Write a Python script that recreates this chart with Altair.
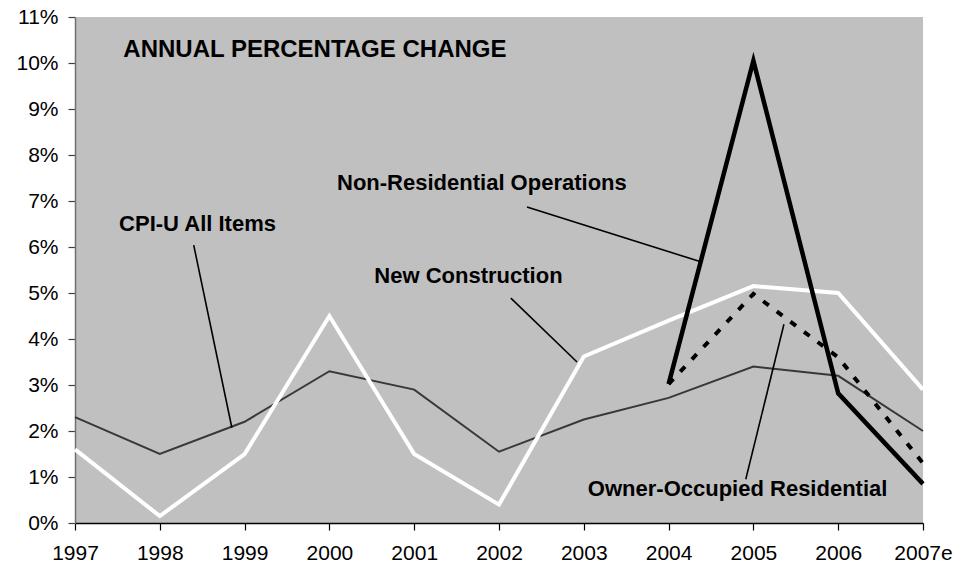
import json
import altair as alt
import pandas as pd

years = ["1997", "1998", "1999", "2000", "2001", "2002", "2003", "2004", "2005", "2006", "2007e"]
cpi = [2.3, 1.5, 2.2, 3.3, 2.9, 1.55, 2.25, 2.72, 3.4, 3.2, 2.0]
new_construction = [1.6, 0.15, 1.5, 4.5, 1.5, 0.4, 3.62, 4.4, 5.15, 5.0, 2.9]
non_res = [None, None, None, None, None, None, None, 3.02, 10.05, 2.82, 0.85]
owner_occ = [None, None, None, None, None, None, None, 3.02, 4.98, 3.6, 1.3]

# annotation texts and leader lines (in data coordinates: x = year index, y = %)
label_text = ["ANNUAL PERCENTAGE CHANGE", "Non-Residential Operations", "New Construction",
              "CPI-U All Items", "Owner-Occupied Residential"]
label_x = [0.57, 3.09, 3.53, 0.52, 9.58]
label_y = [10.28, 7.39, 5.37, 6.50, 0.74]
label_align = ["left", "left", "left", "left", "right"]
label_size = [24, 22, 22, 22, 22]

leader_x1 = [1.40, 5.33, 5.14, 8.36]
leader_y1 = [6.04, 6.87, 4.89, 4.32]
leader_x2 = [1.85, 7.36, 5.92, 7.91]
leader_y2 = [2.07, 5.69, 3.50, 0.95]

FONT = "Liberation Sans"

def series(vals, name):
    return pd.DataFrame({"x": list(range(len(years))), "y": vals, "s": name}).dropna()

x_scale = alt.Scale(domain=[0, len(years) - 1], nice=False, zero=False)
y_scale = alt.Scale(domain=[0, 11], nice=False, zero=True)

label_expr = json.dumps(years) + "[datum.value]"

x_axis = alt.Axis(values=list(range(len(years))), labelExpr=label_expr, title=None,
                  grid=False, domainColor="#000000", domainWidth=1.5, tickColor="#000000",
                  tickSize=7, tickWidth=1.2, labelFont=FONT, labelFontSize=21,
                  labelColor="#000000", labelPadding=12, labelFlush=False, labelOverlap=False)
y_axis = alt.Axis(values=list(range(12)), labelExpr="datum.value + '%'", title=None,
                  grid=False, domainColor="#707070", domainWidth=1.5, tickColor="#404040",
                  tickSize=7, tickWidth=1.2, labelFont=FONT, labelFontSize=21,
                  labelColor="#000000", labelPadding=10, labelFlush=False, labelOverlap=False)

X = lambda f: alt.X(f, scale=x_scale, axis=x_axis)
Y = lambda f: alt.Y(f, scale=y_scale, axis=y_axis)

def line(df, color, width, dash=None):
    kw = dict(color=color, strokeWidth=width, strokeJoin="miter", strokeCap="butt")
    if dash:
        kw["strokeDash"] = dash
    return alt.Chart(df).mark_line(**kw).encode(x=X("x:Q"), y=Y("y:Q"))

cpi_l = line(series(cpi, "CPI"), "#383838", 2)
nc_l = line(series(new_construction, "NC"), "#FFFFFF", 4)
own_l = line(series(owner_occ, "OWN"), "#000000", 4, dash=[7, 10])
nr_l = line(series(non_res, "NR"), "#000000", 4.5)

leaders = pd.DataFrame({"x": leader_x1, "y": leader_y1, "x2": leader_x2, "y2": leader_y2})
lead = alt.Chart(leaders).mark_rule(color="#000000", strokeWidth=1.6).encode(
    x=X("x:Q"), y=Y("y:Q"), x2="x2:Q", y2="y2:Q",
)

labels = pd.DataFrame({"t": label_text, "x": label_x, "y": label_y, "a": label_align,
                       "fs": label_size})
texts = []
for al in ["left", "right"]:
    for fs in sorted(set(label_size)):
        sub = labels[(labels["a"] == al) & (labels["fs"] == fs)]
        if len(sub) == 0:
            continue
        texts.append(
            alt.Chart(sub).mark_text(
                font=FONT, fontSize=fs, fontWeight="bold", color="#000000",
                align=al, baseline="middle"
            ).encode(x=X("x:Q"), y=Y("y:Q"), text="t:N")
        )

chart = alt.layer(cpi_l, nc_l, own_l, nr_l, lead, *texts).properties(
    width=848, height=506,
    autosize=alt.AutoSizeParams(type="none"),
    padding={"left": 75, "top": 17, "right": 51, "bottom": 42},
    background="#FFFFFF",
).configure_view(fill="#C0C0C0", stroke=None)

chart.save("out.html", embed_options={"renderer": "svg", "actions": False})
